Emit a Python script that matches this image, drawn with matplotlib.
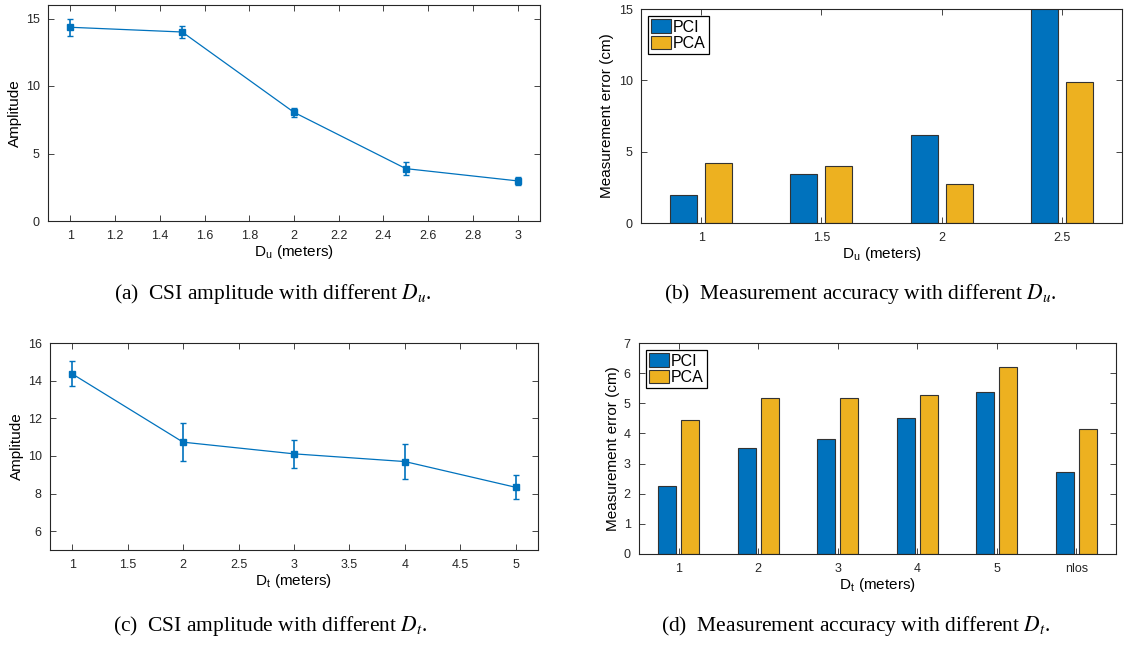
import matplotlib
matplotlib.use("Agg")
import matplotlib.pyplot as plt
import numpy as np

plt.rcParams['font.family'] = ['Liberation Sans', 'DejaVu Sans']
plt.rcParams['mathtext.fontset'] = 'stix'

# ---- data ----
du_x = [1, 1.5, 2, 2.5, 3]
du_amp = [14.35, 14.0, 8.05, 3.88, 2.97]
du_err = [0.65, 0.47, 0.33, 0.47, 0.28]

du_cats = ['1', '1.5', '2', '2.5']
du_pci = [1.95, 3.40, 6.2, 20.0]
du_pca = [4.2, 4.01, 2.70, 9.9]

dt_x = [1, 2, 3, 4, 5]
dt_amp = [14.36, 10.73, 10.11, 9.70, 8.33]
dt_err = [0.66, 1.0, 0.76, 0.93, 0.63]

dt_cats = ['1', '2', '3', '4', '5', 'nlos']
dt_pci = [2.27, 3.53, 3.82, 4.50, 5.38, 2.71]
dt_pca = [4.44, 5.16, 5.18, 5.26, 6.19, 4.16]

BLUE = '#0072BD'
YELLOW = '#EDB120'
AXC = '#262626'

W, H = 1127, 645
fig = plt.figure(figsize=(W / 100, H / 100), dpi=100)


def px_axes(l, t, r, b):
    return fig.add_axes([l / W, 1 - b / H, (r - l) / W, (b - t) / H])


def style(ax):
    for s in ax.spines.values():
        s.set_color(AXC)
        s.set_linewidth(0.8)
    ax.tick_params(direction='in', top=True, right=True, length=4.5, width=0.6,
                   colors=AXC, labelsize=9)
    ax.tick_params(axis='x', pad=6.5)
    ax.tick_params(axis='y', pad=6)


def line_panel(ax, x, y, e, xlim, ylim, xticks, yticks, xlabel):
    ax.errorbar(x, y, yerr=e, color=BLUE, marker='s', markersize=5,
                linewidth=0.9, elinewidth=1.2, capsize=2, capthick=1)
    ax.set_xlim(*xlim)
    ax.set_ylim(*ylim)
    ax.set_xticks(xticks)
    ax.set_yticks(yticks)
    ax.set_xticklabels([('%g' % v) for v in xticks])
    ax.set_xlabel(xlabel, fontsize=11, color='black', labelpad=1)
    ax.set_ylabel('Amplitude', fontsize=11, color='black', labelpad=3)
    style(ax)


def bar_panel(ax, cats, a, b, ylim, yticks, xlabel):
    x = np.arange(1, len(cats) + 1)
    w = 0.225
    off = 0.145
    ax.bar(x - off, a, w, color=BLUE, edgecolor='#333333', linewidth=0.8, label='PCI')
    ax.bar(x + off, b, w, color=YELLOW, edgecolor='#333333', linewidth=0.8, label='PCA')
    ax.set_xlim(0.5, len(cats) + 0.5)
    ax.set_ylim(*ylim)
    ax.set_xticks(x)
    ax.set_xticklabels(cats)
    ax.set_yticks(yticks)
    ax.set_xlabel(xlabel, fontsize=11, color='black', labelpad=1)
    ax.set_ylabel('Measurement error (cm)', fontsize=11, color='black', labelpad=3)
    style(ax)
    leg = ax.legend(loc='upper left', fontsize=11.5, handlelength=1.25, handleheight=0.9,
                    handletextpad=0.1, labelspacing=0.1, borderpad=0.2,
                    borderaxespad=0.45, fancybox=False, edgecolor='black', framealpha=1)
    leg.get_frame().set_linewidth(0.9)


ax_a = px_axes(48, 5, 540, 221)
line_panel(ax_a, du_x, du_amp, du_err, (0.9, 3.1), (0, 16),
           [1, 1.2, 1.4, 1.6, 1.8, 2, 2.2, 2.4, 2.6, 2.8, 3], [0, 5, 10, 15],
           r'D$_\mathregular{u}$ (meters)')

ax_b = px_axes(641, 9, 1122, 223)
bar_panel(ax_b, du_cats, du_pci, du_pca, (0, 15), [0, 5, 10, 15],
          r'D$_\mathregular{u}$ (meters)')

ax_c = px_axes(50, 343, 538, 550)
line_panel(ax_c, dt_x, dt_amp, dt_err, (0.8, 5.2), (5, 16),
           [1, 1.5, 2, 2.5, 3, 3.5, 4, 4.5, 5], [6, 8, 10, 12, 14, 16],
           r'D$_\mathregular{t}$ (meters)')

ax_d = px_axes(639, 343, 1116, 554)
bar_panel(ax_d, dt_cats, dt_pci, dt_pca, (0, 7), [0, 1, 2, 3, 4, 5, 6, 7],
          r'D$_\mathregular{t}$ (meters)')

cap_kw = dict(ha='center', va='center', fontsize=15.5, family='Liberation Serif')
fig.text(273 / W, 1 - 294 / H, r'(a)  CSI amplitude with different $D_u$.', **cap_kw)
fig.text(860 / W, 1 - 294 / H, r'(b)  Measurement accuracy with different $D_u$.', **cap_kw)
fig.text(270 / W, 1 - 626 / H, r'(c)  CSI amplitude with different $D_t$.', **cap_kw)
fig.text(856 / W, 1 - 626 / H, r'(d)  Measurement accuracy with different $D_t$.', **cap_kw)

fig.savefig('out.png', dpi=100)
